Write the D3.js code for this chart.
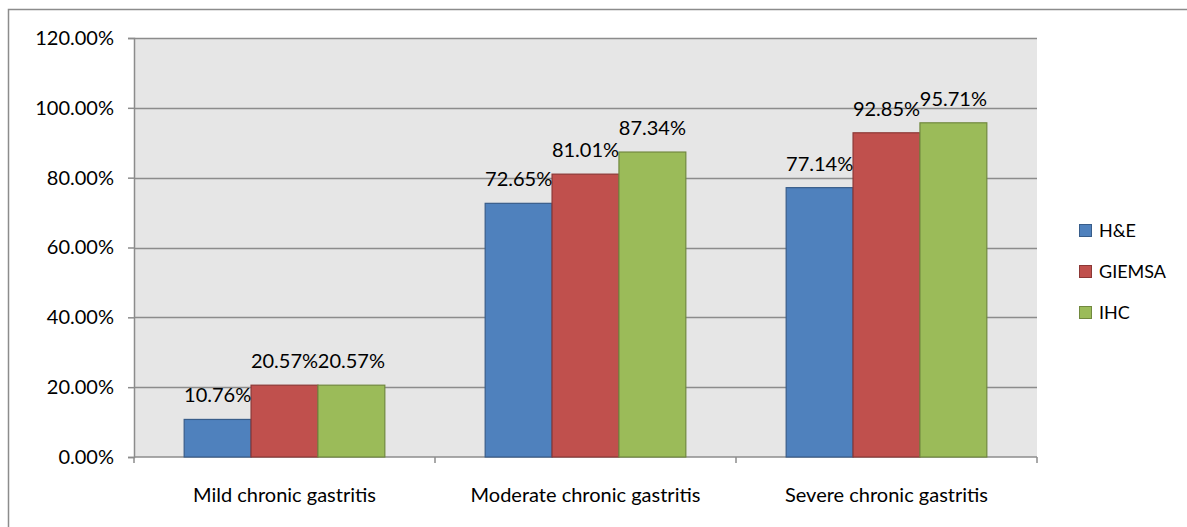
<!DOCTYPE html>
<html lang="en">
<head>
<meta charset="utf-8">
<title>Chronic gastritis detection</title>
<script src="https://d3js.org/d3.v7.min.js"></script>
<style>
  body { margin: 0; background: #fff; }
  svg { display: block; font-family: Lato, "Open Sans", sans-serif; }
</style>
</head>
<body>
<div id="chart"></div>
<script>
// data
var categories = ["Mild chronic gastritis", "Moderate chronic gastritis", "Severe chronic gastritis"];
var seriesNames = ["H&E", "GIEMSA", "IHC"];
var heValues = [10.76, 72.65, 77.14];
var giemsaValues = [20.57, 81.01, 92.85];
var ihcValues = [20.57, 87.34, 95.71];
var yTicks = [0, 20, 40, 60, 80, 100, 120];

var seriesValues = [heValues, giemsaValues, ihcValues];
var fills = ["#4f81bd", "#c0504d", "#9bbb59"];
var strokes = ["#385d8a", "#8c3836", "#71893f"];

var W = 1187, H = 527;
var plotL = 134, plotR = 1037, plotT = 38, plotB = 457;

var svg = d3.select("#chart").append("svg")
  .attr("width", W).attr("height", H);

// outer frame
svg.append("rect")
  .attr("x", 8.5).attr("y", 9.5)
  .attr("width", W + 20).attr("height", H + 20)
  .attr("fill", "#fff").attr("stroke", "#8c8c8c").attr("stroke-width", 1.5);

var x0 = d3.scaleBand().domain(categories).range([plotL, plotR]).paddingInner(0).paddingOuter(0);
var gap = 1.5; // Excel gap width 150%
var barW = x0.bandwidth() / (seriesNames.length + gap);
var y = d3.scaleLinear().domain([0, 120]).range([plotB, plotT]);

// plot area
svg.append("rect")
  .attr("x", plotL).attr("y", plotT)
  .attr("width", plotR - plotL).attr("height", plotB - plotT)
  .attr("fill", "#e6e6e6");

// gridlines
svg.append("g").selectAll("line").data(yTicks.filter(function(d){ return d > 0; }))
  .enter().append("line")
  .attr("x1", plotL).attr("x2", plotR)
  .attr("y1", function(d){ return Math.round(y(d)) + 0.5; })
  .attr("y2", function(d){ return Math.round(y(d)) + 0.5; })
  .attr("stroke", "#8c8c8c").attr("stroke-width", 1.5);

// y axis
var yAxis = d3.axisLeft(y).tickValues(yTicks).tickSize(6).tickPadding(14)
  .tickFormat(function(d){ return d.toFixed(2) + "%"; });
var gy = svg.append("g").attr("transform", "translate(" + plotL + ",0)").call(yAxis);
gy.select(".domain").attr("stroke", "#8c8c8c").attr("stroke-width", 1.5);
gy.selectAll(".tick line").attr("stroke", "#8c8c8c").attr("stroke-width", 1.5);
gy.selectAll("text").attr("font-size", 20).attr("fill", "#000").attr("font-family", "Lato");

// x axis with boundary ticks
var gx = svg.append("g");
gx.append("line").attr("x1", plotL).attr("x2", plotR)
  .attr("y1", plotB).attr("y2", plotB)
  .attr("stroke", "#8c8c8c").attr("stroke-width", 1.5);
var bounds = categories.map(function(c){ return x0(c); }).concat([plotR]);
gx.selectAll("line.tk").data(bounds).enter().append("line").attr("class", "tk")
  .attr("x1", function(d){ return d; }).attr("x2", function(d){ return d; })
  .attr("y1", plotB).attr("y2", plotB + 6)
  .attr("stroke", "#8c8c8c").attr("stroke-width", 1.5);
gx.selectAll("text").data(categories).enter().append("text")
  .attr("x", function(d){ return x0(d) + x0.bandwidth() / 2; })
  .attr("y", 502)
  .attr("text-anchor", "middle")
  .attr("font-size", 20)
  .text(function(d){ return d; });

// bars
seriesNames.forEach(function(s, si) {
  var g = svg.append("g");
  g.selectAll("rect").data(seriesValues[si]).enter().append("rect")
    .attr("x", function(d, i){ return x0(categories[i]) + barW * gap / 2 + si * barW; })
    .attr("y", function(d){ return y(d); })
    .attr("width", barW)
    .attr("height", function(d){ return plotB - y(d); })
    .attr("fill", fills[si])
    .attr("stroke", strokes[si]).attr("stroke-width", 1.2);
});

// labels (drawn after all bars)
seriesNames.forEach(function(s, si) {
  svg.append("g").selectAll("text").data(seriesValues[si]).enter().append("text")
    .attr("x", function(d, i){ return x0(categories[i]) + barW * gap / 2 + si * barW + barW / 2; })
    .attr("y", function(d){ return y(d) - 17; })
    .attr("text-anchor", "middle")
    .attr("font-size", 20)
    .text(function(d){ return d.toFixed(2) + "%"; });
});

// legend
var legend = svg.append("g").selectAll("g").data(seriesNames).enter().append("g")
  .attr("transform", function(d, i){ return "translate(1079," + (231 + i * 41) + ")"; });
legend.append("rect")
  .attr("x", 0.5).attr("y", -6.5).attr("width", 12).attr("height", 12)
  .attr("fill", function(d, i){ return fills[i]; })
  .attr("stroke", function(d, i){ return strokes[i]; });
legend.append("text")
  .attr("x", 20).attr("y", 0).attr("dy", "0.35em")
  .attr("font-size", 18)
  .text(function(d){ return d; });
</script>
</body>
</html>
